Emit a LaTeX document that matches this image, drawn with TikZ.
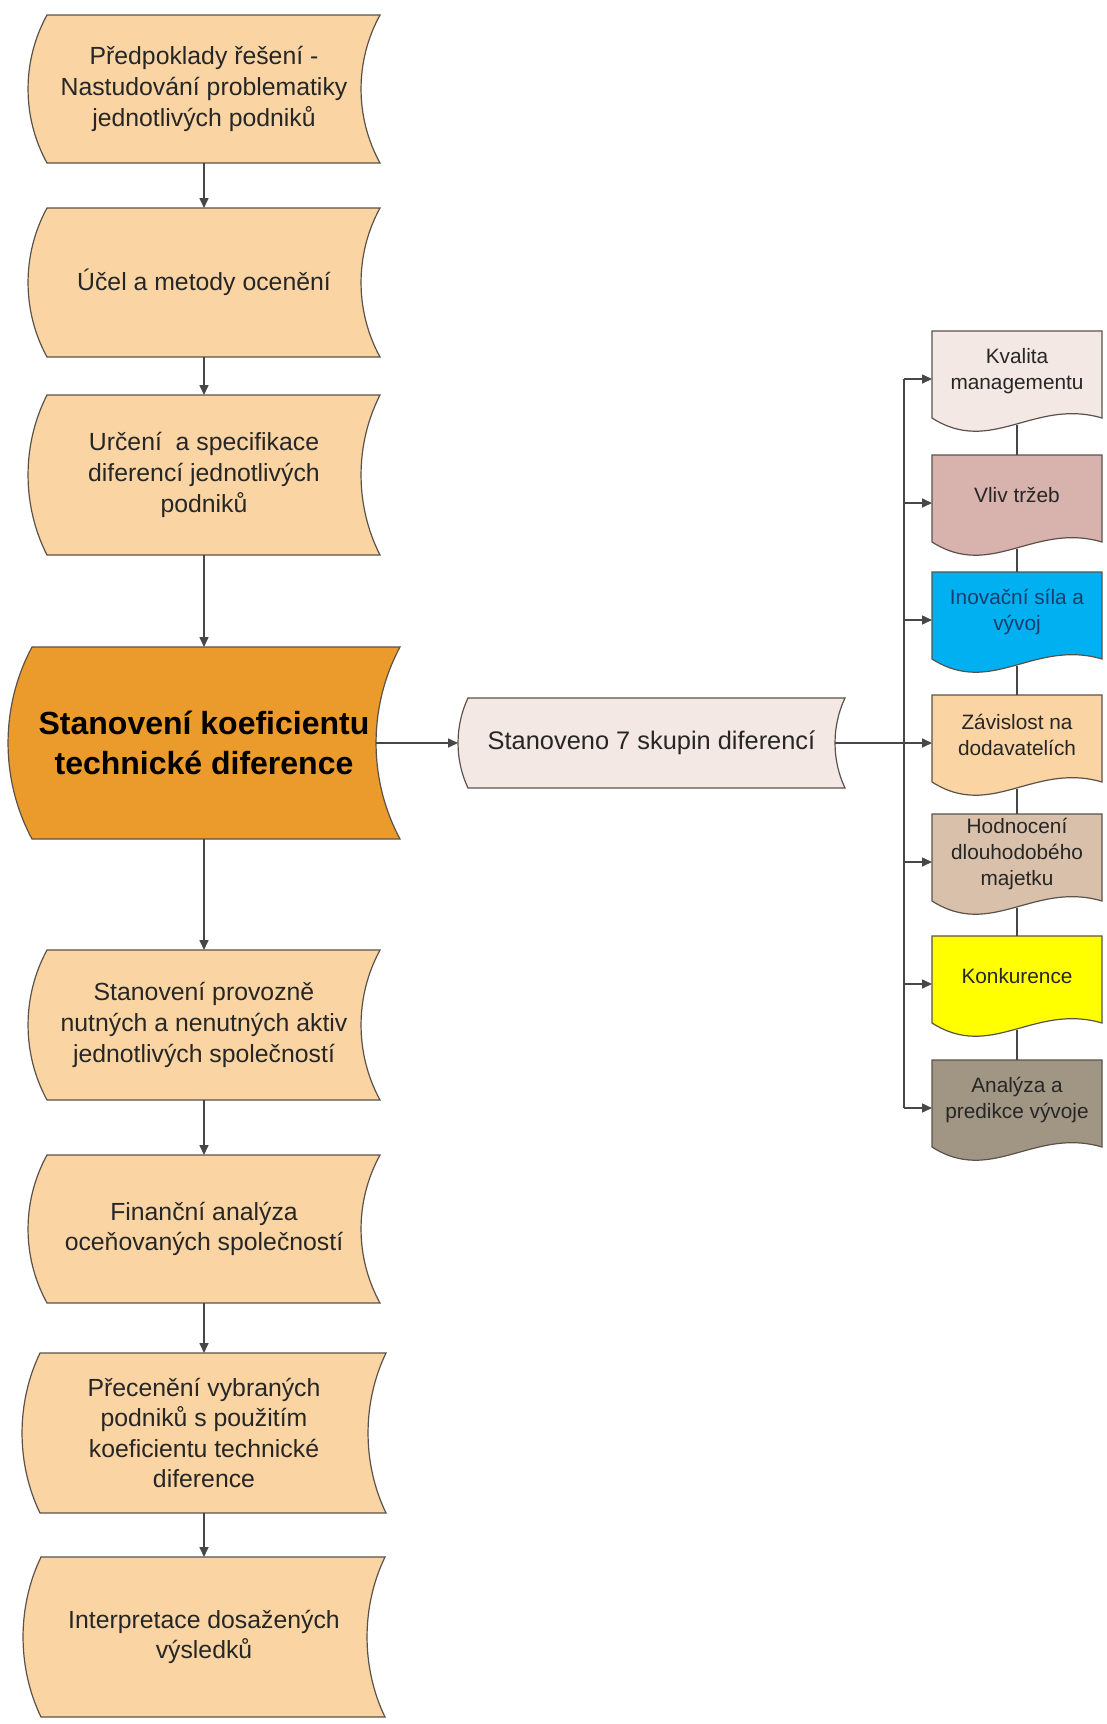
\documentclass[tikz,border=0pt]{standalone}
\usepackage{fontspec}
\setmainfont{Liberation Sans}
\usetikzlibrary{arrows.meta,calc,backgrounds}

\definecolor{edge}{HTML}{5A524A}
\definecolor{wire}{HTML}{474747}
\definecolor{ink}{HTML}{262626}
\definecolor{peach}{HTML}{FAD5A3}
\definecolor{amber}{HTML}{EB9A2C}
\definecolor{blush}{HTML}{F4E8E4}
\definecolor{rose}{HTML}{D8B2AC}
\definecolor{cyanfill}{HTML}{00B0F0}
\definecolor{navy}{HTML}{1B3D6E}
\definecolor{sand}{HTML}{D8C0AA}
\definecolor{lemon}{HTML}{FFFF00}
\definecolor{taupe}{HTML}{A19683}

% stored-data outline around a node: convex left side, concave right side
\newcommand\tapeoutline[3]{%
  \path[fill=#2, draw=edge, line width=0.6pt]
    ($(#1.north west)+(#3/2,0)$) -- ($(#1.north east)+(#3/2,0)$)
    .. controls ($(#1.north east)!0.31!(#1.south east)+(-0.83*#3,0)$)
            and ($(#1.north east)!0.69!(#1.south east)+(-0.83*#3,0)$)
    .. ($(#1.south east)+(#3/2,0)$) -- ($(#1.south west)+(#3/2,0)$)
    .. controls ($(#1.north west)!0.69!(#1.south west)+(-0.83*#3,0)$)
            and ($(#1.north west)!0.31!(#1.south west)+(-0.83*#3,0)$)
    .. cycle;}

% document outline: straight top and sides, wavy bottom
\newcommand\docoutline[2]{%
  \path[fill=#2, draw=edge, line width=0.6pt]
    (#1.north west) -- (#1.north east) -- ($(#1.north east)+(0,87)$)
    .. controls ($(#1.north east)+(-68,67)$) and ($(#1.north east)+(-110.5,125)$)
    .. ($(#1.north west)+(0,87)$) -- cycle;}

\tikzset{
  x=0.5pt, y=-0.5pt,
  every node/.style={inner sep=0pt, outer sep=0pt, align=center, text=ink},
  tape/.style={font=\fontsize{12.4}{15.3}\selectfont},
  bigtape/.style={font=\fontsize{16}{20}\selectfont\bfseries, text=black},
  midtape/.style={font=\fontsize{12.7}{15.3}\selectfont},
  doc/.style={minimum width=85pt, minimum height=40pt,
              font=\fontsize{10.4}{12.8}\selectfont},
  arr/.style={draw=wire, line width=0.8pt, -{Triangle[length=5pt,width=4.5pt]}},
  wireline/.style={draw=wire, line width=0.8pt},
}

\begin{document}
\begin{tikzpicture}
\useasboundingbox (0,0) rectangle (1107,1724);

% main process column
\node[tape, minimum width=166.5pt, minimum height=74pt] (b1) at (204,89)
  {Předpoklady řešení -\\Nastudování problematiky\\jednotlivých podniků};
\node[tape, minimum width=166.5pt, minimum height=74.5pt] (b2) at (204,282.5)
  {Účel a metody ocenění};
\node[tape, minimum width=166.5pt, minimum height=80pt] (b3) at (204,475)
  {Určení\ \ a specifikace\\diferencí jednotlivých\\podniků};
\node[bigtape, minimum width=184pt, minimum height=96pt] (b4) at (204,743)
  {Stanovení koeficientu\\technické diference};
\node[tape, minimum width=166.5pt, minimum height=75pt] (b5) at (204,1025)
  {Stanovení provozně\\nutných a nenutných aktiv\\jednotlivých společností};
\node[tape, minimum width=166.5pt, minimum height=74pt] (b6) at (204,1229)
  {Finanční analýza\\oceňovaných společností};
\node[tape, minimum width=173pt, minimum height=80pt] (b7) at (204,1433)
  {Přecenění vybraných\\podniků s použitím\\koeficientu technické\\diference};
\node[tape, minimum width=172pt, minimum height=80pt] (b8) at (204,1637)
  {Interpretace dosažených\\výsledků};

% summary of the difference groups
\node[midtape, minimum width=188.5pt, minimum height=45pt] (m) at (651.5,743)
  {Stanoveno 7 skupin diferencí};

% the seven groups
\node[doc] (k1) at (1017,371) {Kvalita\\managementu};
\node[doc] (k2) at (1017,495) {Vliv tržeb};
\node[doc, text=navy] (k3) at (1017,612) {Inovační síla a\\vývoj};
\node[doc] (k4) at (1017,735) {Závislost na\\dodavatelích};
\node[doc] (k5) at (1017,854) {Hodnocení\\dlouhodobého\\majetku};
\node[doc] (k6) at (1017,976) {Konkurence};
\node[doc] (k7) at (1017,1100) {Analýza a\\predikce vývoje};

\begin{scope}[on background layer]
  \tapeoutline{b1}{peach}{19}
  \tapeoutline{b2}{peach}{19}
  \tapeoutline{b3}{peach}{19}
  \tapeoutline{b4}{amber}{24}
  \tapeoutline{b5}{peach}{19}
  \tapeoutline{b6}{peach}{19}
  \tapeoutline{b7}{peach}{18}
  \tapeoutline{b8}{peach}{18}
  \tapeoutline{m}{blush}{10}
  \docoutline{k1}{blush}
  \docoutline{k2}{rose}
  \docoutline{k3}{cyanfill}
  \docoutline{k4}{peach}
  \docoutline{k5}{sand}
  \docoutline{k6}{lemon}
  \docoutline{k7}{taupe}
\end{scope}

% flow down the main column
\draw[arr] (b1.south) -- (b2.north);
\draw[arr] (b2.south) -- (b3.north);
\draw[arr] (b3.south) -- (b4.north);
\draw[arr] (b4.south) -- (b5.north);
\draw[arr] (b5.south) -- (b6.north);
\draw[arr] (b6.south) -- (b7.north);
\draw[arr] (b7.south) -- (b8.north);

% arrow entry points on the group boxes
\foreach \i in {1,...,7} {
  \coordinate (t\i) at ([yshift=-4pt]k\i.west);
}
\coordinate (bus) at (904,0);

% branch to the summary and on to the groups
\draw[arr] ($(b4.east)+(-12,0)$) -- ($(m.west)+(-5,0)$);
\draw[arr] ($(m.east)+(-5,0)$) -- (t4);
\draw[wireline] (bus |- t1) -- (bus |- t7);
\foreach \i in {1,2,3,5,6,7} {
  \draw[arr] (bus |- t\i) -- (t\i);
}

% links stacking the group boxes
\foreach \i/\j in {1/2,2/3,3/4,4/5,5/6,6/7} {
  \draw[wireline] ($(k\i.north)+(0,94)$) -- (k\j.north);
}
\end{tikzpicture}
\end{document}
